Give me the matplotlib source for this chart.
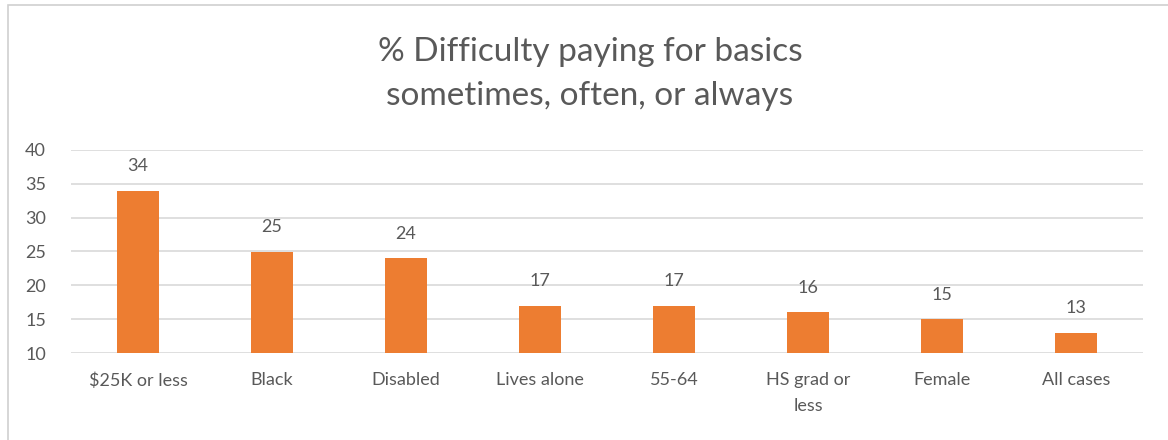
import matplotlib
matplotlib.use("Agg")
import matplotlib.pyplot as plt
from matplotlib.patches import Rectangle

plt.rcParams['font.family'] = ['Lato', 'DejaVu Sans']

categories = ["$25K or less", "Black", "Disabled", "Lives alone", "55-64", "HS grad or\nless", "Female", "All cases"]
values = [34, 25, 24, 17, 17, 16, 15, 13]
yticks = [10, 15, 20, 25, 30, 35, 40]

txt = "#595959"
fig = plt.figure(figsize=(11.68, 4.4), dpi=100)
# chart area border (cut off at right and bottom like the source)
fig.patches.append(Rectangle((8 / 1168, -0.1), 1.2, 0.1 + (440 - 5) / 440,
                             transform=fig.transFigure, fill=False,
                             edgecolor="#d0d0d0", linewidth=1.2))

ax = fig.add_axes([71 / 1168, (440 - 353) / 440, 1072 / 1168, 203 / 440])
x = range(len(categories))
ax.bar(x, [v - 10 for v in values], bottom=10, width=0.31, color="#ED7D31", zorder=3)
for i, v in enumerate(values):
    ax.text(i, v + 2.4, str(v), ha="center", va="bottom", fontsize=13, color=txt)

ax.set_ylim(10, 40)
ax.set_xlim(-0.5, len(categories) - 0.5)
ax.set_yticks(yticks)
ax.yaxis.grid(True, color="#d9d9d9", linewidth=1.2, zorder=0)
ax.set_xticks(list(x))
ax.set_xticklabels(categories, fontsize=13, color=txt, linespacing=1.75)
ax.tick_params(axis="y", labelsize=13, labelcolor=txt, length=0, pad=18)
ax.tick_params(axis="x", length=0, pad=14)
for s in ax.spines.values():
    s.set_visible(False)

fig.text(590 / 1168, 1 - 74 / 440, "% Difficulty paying for basics\nsometimes, often, or always",
         ha="center", va="center", fontsize=24, color=txt, linespacing=1.55)

fig.savefig("out.png", dpi=100)
